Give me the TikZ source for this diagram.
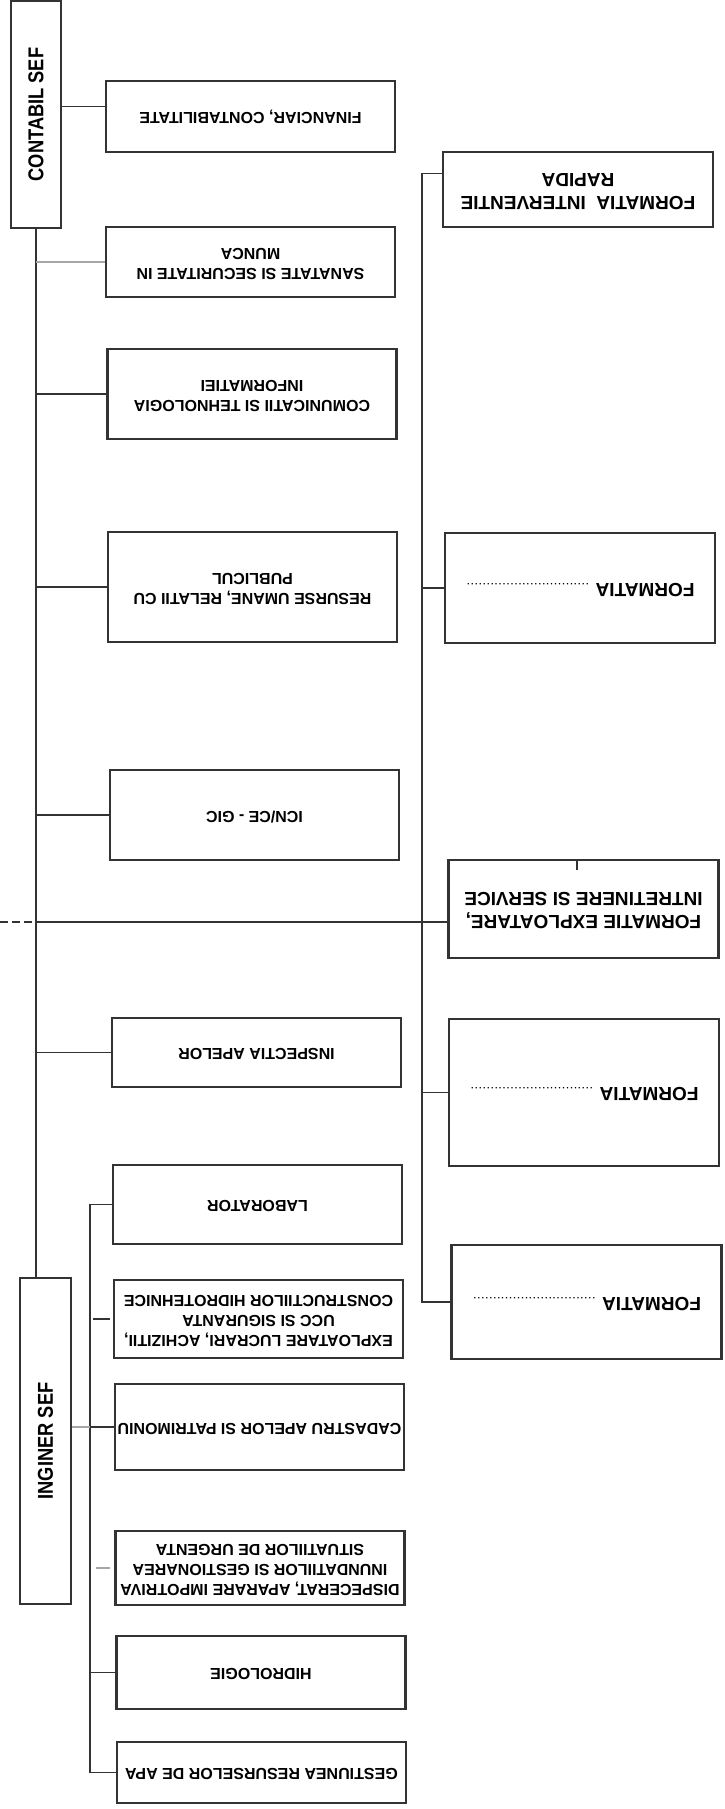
\documentclass[tikz,border=0pt]{standalone}
\usepackage{fontspec}
\setmainfont{Liberation Sans}
\newfontfamily\chieffont{Liberation Sans}[FakeStretch=0.85]
\usetikzlibrary{calc}

% the scanned sheet is turned round: unit texts read upside down, chief texts bottom to top
\newcommand{\flipped}[1]{\rotatebox[origin=c]{180}{\begin{tabular}{@{}c@{}}#1\end{tabular}}}
\newcommand{\sidetext}[1]{\rotatebox[origin=c]{90}{#1}}
\newcommand{\dotrun}{\makebox[125pt]{\fontsize{9}{9}\selectfont\dotfill}}

\begin{document}
\begin{tikzpicture}[
    x=1pt, y=-1pt,
    unitbox/.style={draw=black!80, line width=2.3pt, inner sep=2pt, minimum width=289pt, font=\bfseries\fontsize{16}{20}\selectfont},
    formbox/.style={draw=black!80, line width=2.3pt, inner sep=2pt, minimum width=270pt, font=\bfseries\fontsize{19}{23}\selectfont},
    chiefbox/.style={draw=black!80, line width=2.5pt, inner sep=0pt, font=\chieffont\bfseries\fontsize{21.5}{24}\selectfont},
    link/.style={draw=black!80, line width=1.8pt},
    faintlink/.style={draw=black!35, line width=1.8pt},
]
\path[use as bounding box, fill=white] (0,0) rectangle (725,1809);

% ===== LEFT: Contabil sef and its units =====
\node[chiefbox, minimum width=50pt, minimum height=227pt] (cs) at (36,114.5) {\sidetext{CONTABIL SEF}};

\node[unitbox, minimum height=71pt] (fin) at (250.5,116.5) {\flipped{FINANCIAR, CONTABILITATE}};
\node[unitbox, minimum height=70pt] (ssm) at (250.5,262) {\flipped{SANATATE SI SECURITATE IN\\MUNCA}};
\node[unitbox, minimum height=90pt] (cti) at (252,394) {\flipped{COMUNICATII SI TEHNOLOGIA\\INFORMATIEI}};
\node[unitbox, minimum height=110pt] (ru) at (252.5,587) {\flipped{RESURSE UMANE, RELATII CU\\PUBLICUL}};
\node[unitbox, minimum height=90pt] (icn) at (254.5,815) {\flipped{ICN/CE - GIC}};
\node[unitbox, minimum height=69pt] (insp) at (256.5,1052.5) {\flipped{INSPECTIA APELOR}};

% ===== LEFT: Inginer sef and its units =====
\node[chiefbox, minimum width=51pt, minimum height=326pt] (is) at (45.5,1441) {\sidetext{INGINER SEF}};

\node[unitbox, minimum height=79pt] (lab) at (257.5,1204.5) {\flipped{LABORATOR}};
\node[unitbox, minimum height=78pt] (expl) at (258.5,1319) {\flipped{EXPLOATARE LUCRARI, ACHIZITII,\\UCC SI SIGURANTA\\CONSTRUCTIILOR HIDROTEHNICE}};
\node[unitbox, minimum height=86pt] (cad) at (259.5,1427) {\flipped{CADASTRU APELOR SI PATRIMONIU}};
\node[unitbox, minimum height=74pt] (disp) at (260,1568) {\flipped{DISPECERAT, APARARE IMPOTRIVA\\INUNDATIILOR SI GESTIONAREA\\SITUATIILOR DE URGENTA}};
\node[unitbox, minimum height=73pt] (hidro) at (261,1672.5) {\flipped{HIDROLOGIE}};
\node[unitbox, minimum height=61pt] (gest) at (261.5,1772.5) {\flipped{GESTIUNEA RESURSELOR DE APA}};

% ===== RIGHT: formations =====
\node[formbox, minimum height=75pt] (fir) at (578,189.5) {\flipped{FORMATIA~~INTERVENTIE\\RAPIDA}};
\node[formbox, minimum height=110pt] (f1) at (580,588) {\flipped{FORMATIA \dotrun}};
\node[formbox, minimum height=98pt] (fes) at (583.5,909) {\flipped{FORMATIE EXPLOATARE,\\INTRETINERE SI SERVICE}};
\node[formbox, minimum height=147pt] (f2) at (584,1092.5) {\flipped{FORMATIA \dotrun}};
\node[formbox, minimum height=114pt] (f3) at (586.5,1302) {\flipped{FORMATIA \dotrun}};

% ===== Connectors =====
% main bus from contabil sef down to inginer sef
\draw[link] (cs.south) -- (cs.south |- is.north);
\coordinate (finj) at ($(fin.west)+(0,-10)$);
\draw[link] (cs.east |- finj) -- (finj);
\draw[faintlink] (cs.south |- ssm.west) -- (ssm.west);
\foreach \u in {cti,ru,icn,insp}
    \draw[link] (cs.south |- \u.west) -- (\u.west);

% inginer sef bus
\coordinate (ibus) at ($(lab.west)+(-22,0)$);
\draw[link] (lab.west) -- (ibus) |- (gest.west);
\draw[link] ($(expl.west)+(-20,0)$) -- ($(expl.west)+(-3,0)$);
\draw[faintlink] (is.east |- cad.west) -- (ibus |- cad.west);
\draw[link] (ibus |- cad.west) -- (cad.west);
\draw[faintlink] ($(disp.west)+(-18,0)$) -- ($(disp.west)+(-4,0)$);
\draw[link] (ibus |- hidro.west) -- (hidro.west);

% formations bus
\coordinate (firj) at ($(fir.west)+(0,-16)$);
\coordinate (rbus) at ($(firj)+(-20,0)$);
\draw[link] (firj) -- (rbus) |- (f3.west);
\foreach \u in {f1,f2}
    \draw[link] (rbus |- \u.west) -- (\u.west);

% line coming in from the sheet edge to the exploitation formation
\coordinate (fesj) at ($(fes.west)+(0,13)$);
\coordinate (cut) at (0,922);
\draw[link, dash pattern=on 8pt off 4pt] (cut) -- (cut -| cs.south);
\draw[link] (cut -| cs.south) -- (fesj);
\draw[link] ([xshift=-6.5pt]fes.north) -- ++(0,11);

\end{tikzpicture}
\end{document}
